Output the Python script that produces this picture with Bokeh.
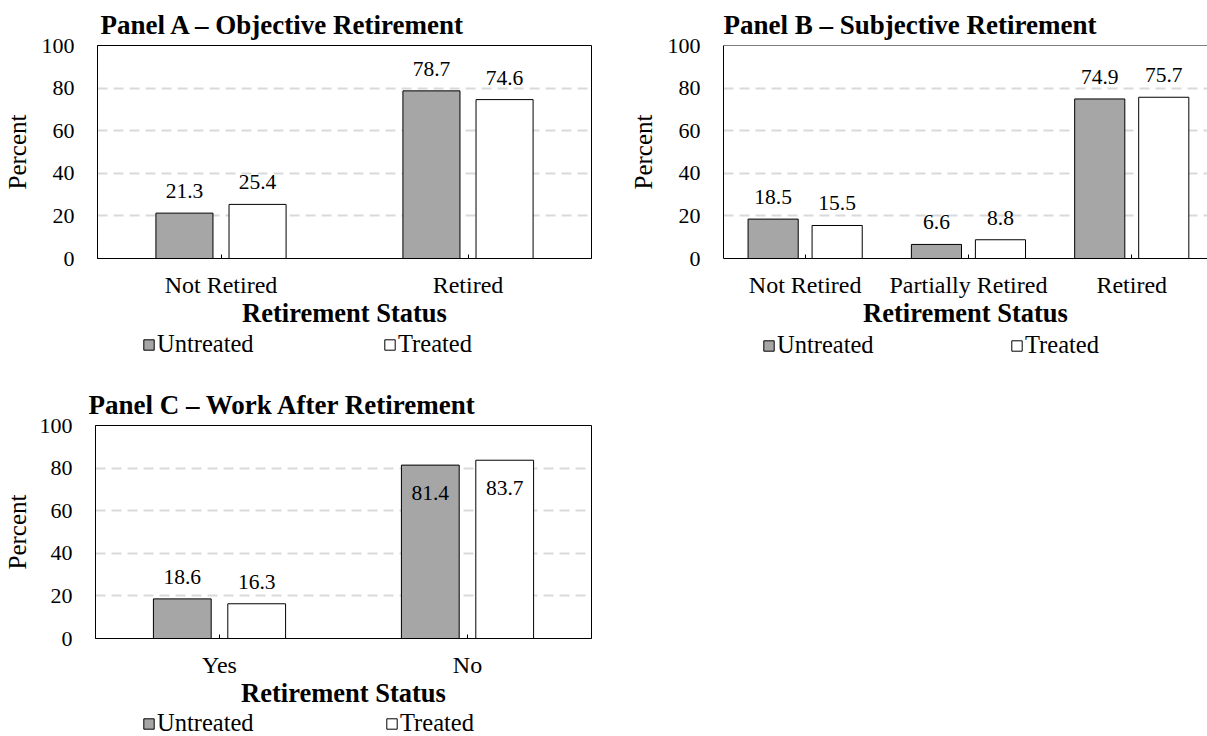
from bokeh.plotting import figure
from bokeh.models import ColumnDataSource, FixedTicker, Legend, LegendItem, Span, Title
from bokeh.layouts import column, row
from bokeh.transform import dodge
from bokeh.embed import file_html
from bokeh.resources import INLINE
from bokeh.core.properties import value

# ---------------- data ----------------
series = ["Untreated", "Treated"]

a_categories = ["Not Retired", "Retired"]
a_untreated = [21.3, 78.7]
a_treated = [25.4, 74.6]

b_categories = ["Not Retired", "Partially Retired", "Retired"]
b_untreated = [18.5, 6.6, 74.9]
b_treated = [15.5, 8.8, 75.7]

c_categories = ["Yes", "No"]
c_untreated = [18.6, 81.4]
c_treated = [16.3, 83.7]

panel_titles = ["Panel A \u2013 Objective Retirement",
                "Panel B \u2013 Subjective Retirement",
                "Panel C \u2013 Work After Retirement"]
x_title = "Retirement Status"
y_title = "Percent"
y_ticks = [0, 20, 40, 60, 80, 100]

# ---------------- style ----------------
FONT = "Liberation Serif"
GRAY = "#A6A6A6"
SERIES_FILL = [GRAY, "white"]
NAN = float("nan")


def make_panel(title, cats, unt, trt, width, height, b_left, b_right, b_top, b_bottom,
               x_span, bar_w, off, title_offset, ylabel_standoff=8, inside=(), outline=True):
    n = len(cats)
    xs = list(range(1, n + 1))
    unt_off = [28 if i in inside else -22 for i in range(n)]
    trt_off = [28 if i in inside else -22 for i in range(n)]
    src = ColumnDataSource(dict(
        x=xs, unt=unt, trt=trt,
        unt_lbl=[f"{v:.1f}" for v in unt], trt_lbl=[f"{v:.1f}" for v in trt],
        unt_off=unt_off, trt_off=trt_off))

    p = figure(width=width, height=height, x_range=(0.5, 0.5 + x_span), y_range=(0, 100),
               output_backend="svg", toolbar_location=None,
               min_border_left=b_left, min_border_right=b_right,
               min_border_top=b_top, min_border_bottom=b_bottom)
    p.title = Title(text=title, align="left", offset=title_offset,
                    text_font=FONT, text_font_size="27px", text_font_style="bold",
                    text_color="black", standoff=12)

    p.vbar(x=dodge("x", -off, range=p.x_range), top="unt", width=bar_w, source=src,
           fill_color=SERIES_FILL[0], line_color="black", line_width=1)
    p.vbar(x=dodge("x", off, range=p.x_range), top="trt", width=bar_w, source=src,
           fill_color=SERIES_FILL[1], line_color="black", line_width=1)

    for col, lbl, o, s in (("unt", "unt_lbl", "unt_off", -off), ("trt", "trt_lbl", "trt_off", off)):
        p.text(x=dodge("x", s, range=p.x_range), y=col, text=lbl, y_offset=o, source=src,
               text_align="center", text_baseline="alphabetic",
               text_font=value(FONT), text_font_size="21.5px", text_color="black")

    # axes
    p.xaxis.ticker = FixedTicker(ticks=xs)
    p.xaxis.major_label_overrides = {x: c for x, c in zip(xs, cats)}
    p.xaxis.major_tick_in = 4
    p.xaxis.major_tick_out = 0
    p.xaxis.major_tick_line_color = "black"
    p.xaxis.minor_tick_line_color = None
    p.xaxis.axis_line_color = "black"
    p.xaxis.major_label_standoff = 13
    p.xaxis.axis_label = x_title
    p.xaxis.axis_label_standoff = -3
    p.xaxis.axis_label_text_font = FONT
    p.xaxis.axis_label_text_font_size = "26.5px"
    p.xaxis.axis_label_text_font_style = "bold"
    p.xaxis.axis_label_text_color = "black"
    p.xaxis.major_label_text_font = FONT
    p.xaxis.major_label_text_font_size = "24px"
    p.xaxis.major_label_text_color = "black"

    p.yaxis.ticker = FixedTicker(ticks=y_ticks)
    p.yaxis.major_tick_line_color = None
    p.yaxis.minor_tick_line_color = None
    p.yaxis.axis_line_color = "black"
    p.yaxis.major_label_standoff = 17
    p.yaxis.major_label_text_font = FONT
    p.yaxis.major_label_text_font_size = "22px"
    p.yaxis.major_label_text_color = "black"
    p.yaxis.axis_label = y_title
    p.yaxis.axis_label_standoff = ylabel_standoff
    p.yaxis.axis_label_text_font = FONT
    p.yaxis.axis_label_text_font_size = "25px"
    p.yaxis.axis_label_text_font_style = "normal"
    p.yaxis.axis_label_text_color = "black"

    p.xgrid.grid_line_color = None
    p.ygrid.ticker = FixedTicker(ticks=y_ticks)
    p.ygrid.grid_line_color = "#D9D9D9"
    p.ygrid.grid_line_width = 2
    p.ygrid.grid_line_dash = "10 6"

    if outline:
        p.outline_line_color = "black"
        p.outline_line_width = 1
        p.outline_line_alpha = 1
    else:
        p.outline_line_color = None
        p.add_layout(Span(location=100, dimension="width", line_color="black", line_width=1))
    p.background_fill_color = "white"
    p.border_fill_color = "white"
    return p


def make_legend(width, height, b_left, b_right, loc, label_w):
    lf = figure(width=width, height=height, x_range=(0, 1), y_range=(0, 1),
                output_backend="svg", toolbar_location=None,
                x_axis_location=None, y_axis_location=None,
                min_border_left=b_left, min_border_right=b_right,
                min_border_top=0, min_border_bottom=0)
    lf.outline_line_color = None
    lf.grid.visible = False
    rs = []
    for fc in SERIES_FILL:
        # legend-only renderer: no visible data point
        src = ColumnDataSource(dict(x=[NAN], top=[NAN]))
        rs.append(lf.vbar(x="x", top="top", width=0.1, source=src,
                          fill_color=fc, line_color="black", line_width=1))
    legend = Legend(items=[LegendItem(label=s, renderers=[r]) for s, r in zip(series, rs)],
                    location=loc, orientation="horizontal",
                    glyph_width=13, glyph_height=13, label_standoff=2,
                    label_width=label_w, spacing=0, padding=0, margin=0,
                    border_line_alpha=0, background_fill_alpha=0,
                    label_text_font=FONT, label_text_font_size="24.5px",
                    label_text_color="black")
    lf.add_layout(legend)
    return lf


pA = make_panel(panel_titles[0], a_categories, a_untreated, a_treated,
                600, 330, 97, 9, 45, 70, 2.0, 0.231, 0.148, 3)
lA = make_legend(600, 32, 97, 9, (45, 4), 226)
pB = make_panel(panel_titles[1], b_categories, b_untreated, b_treated,
                607, 330, 123, 0, 45, 70, 484 / 163.3, 0.307, 0.196, 0, outline=False)
lB = make_legend(607, 32, 123, 0, (39, 3), 233)
pC = make_panel(panel_titles[2], c_categories, c_untreated, c_treated,
                600, 348, 95, 9, 63, 70, 2.0, 0.233, 0.15, -7,
                ylabel_standoff=6, inside=(1,))
lC = make_legend(600, 26, 95, 9, (47, -1), 228)

layout = column(row(column(pA, lA, spacing=0), column(pB, lB, spacing=0), spacing=0),
                column(pC, lC, spacing=0), spacing=0)

open("out.html", "w").write(file_html(layout, INLINE))
